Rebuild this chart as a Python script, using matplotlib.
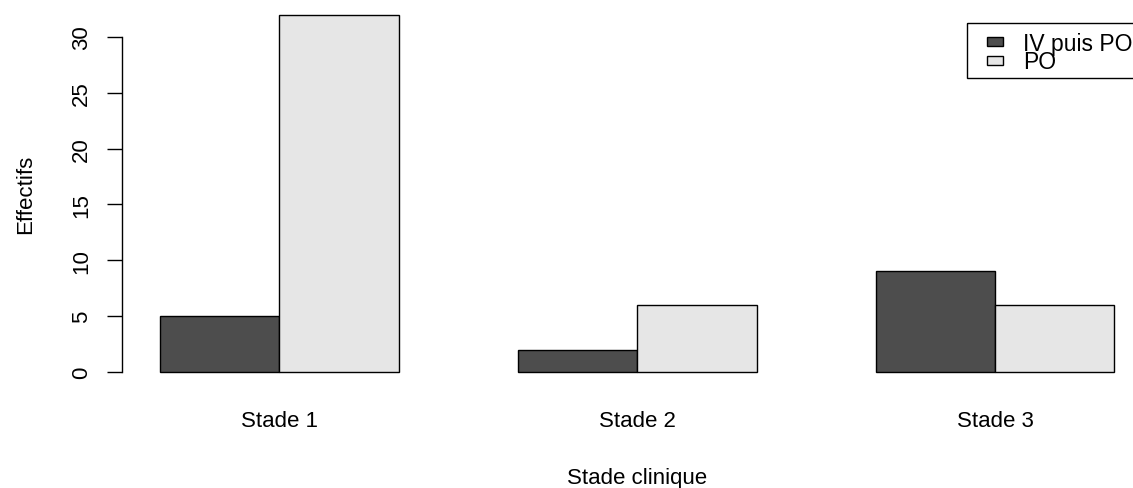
import numpy as np
import matplotlib.pyplot as plt
from matplotlib.patches import Rectangle
from matplotlib.transforms import Affine2D

plt.rcParams['font.family'] = ['Liberation Sans', 'DejaVu Sans']

# effectifs par stade clinique et par voie d'administration
stades = ['Stade 1', 'Stade 2', 'Stade 3']
iv_puis_po = [5, 2, 9]
po = [32, 6, 6]
series = ['IV puis PO', 'PO']
couleurs = ['#4d4d4d', '#e6e6e6']
yticks = [0, 5, 10, 15, 20, 25, 30]

W, H = 1133, 489
fig = plt.figure(figsize=(W / 100, H / 100), dpi=100)
ax = fig.add_axes([121.8 / W, 1 - 387.3 / H, 1030.8 / W, 386.0 / H])

# barplot cote a cote, un espace d'une barre entre les groupes
valeurs = np.array([iv_puis_po, po])
n_grp = len(stades)
gauche = 1 + 3 * np.arange(n_grp)
for s in range(valeurs.shape[0]):
    ax.bar(gauche + s, valeurs[s], width=1, align='edge',
           color=couleurs[s], edgecolor='black', linewidth=1.0)

ax.set_xlim(0.68, 9.32)
ax.set_ylim(-1.28, 33.28)

for cote in ['top', 'right', 'bottom']:
    ax.spines[cote].set_visible(False)
ax.spines['left'].set_bounds(0, 30)
ax.spines['left'].set_linewidth(1.0)

ax.set_yticks(yticks)
ax.set_yticklabels([str(v) for v in yticks], rotation=90, va='center')
ax.tick_params(axis='y', length=10.5, width=1.0, pad=11, labelsize=16)

ax.set_xticks(gauche + 1)
ax.set_xticklabels(stades)
ax.tick_params(axis='x', length=0, pad=17, labelsize=16)

# coordonnees en pixels depuis le coin haut gauche
px = Affine2D().scale(1 / W, -1 / H).translate(0, 1) + fig.transFigure

fig.text(637, 484, 'Stade clinique', transform=px, ha='center',
         va='baseline', fontsize=16)
fig.text(36, 194, 'Effectifs', transform=px, ha='right', va='center',
         rotation=90, fontsize=16)

# legende
fig.patches.append(Rectangle((967, 24), 300, 55, transform=px, fill=False,
                             edgecolor='black', linewidth=1.0))
for i, (nom, c) in enumerate(zip(series, couleurs)):
    y = 42.5 + 18.5 * i
    fig.patches.append(Rectangle((987, y - 4.5), 16, 9, transform=px,
                                 facecolor=c, edgecolor='black', linewidth=1.0))
    fig.text(1023, y + 8, nom, transform=px, ha='left', va='baseline',
             fontsize=16.5)

fig.savefig('out.png', dpi=100)
